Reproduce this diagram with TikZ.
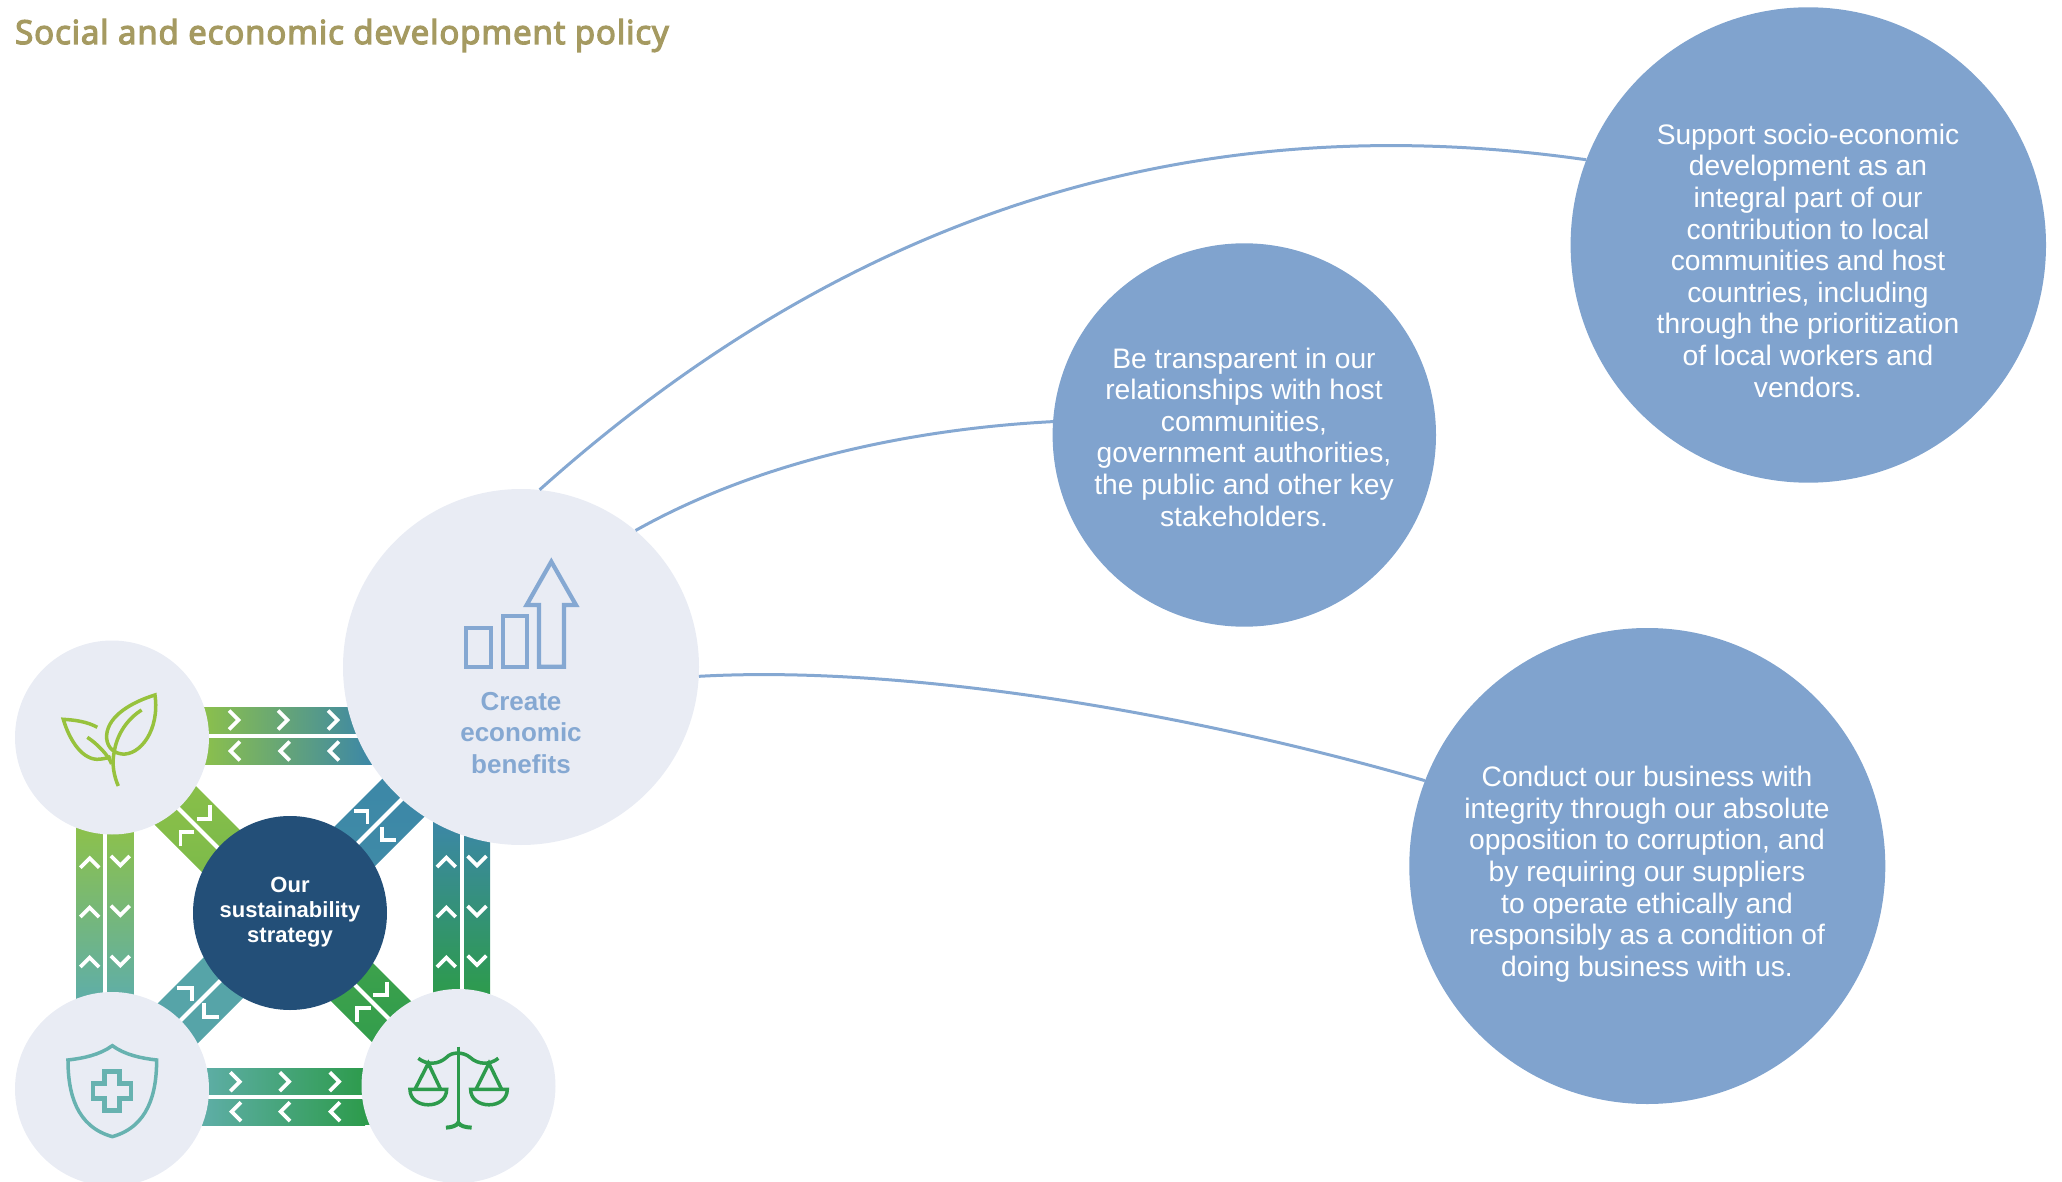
\documentclass[tikz,border=0pt]{standalone}
\usepackage{fontspec}
\setmainfont{Liberation Sans}
\newfontfamily\titlefont[FakeBold=4,LetterSpace=2.8]{Open Sans}
\definecolor{pale}{HTML}{E9ECF4}
\definecolor{skyblue}{HTML}{80A3CE}
\definecolor{iconblue}{HTML}{85A8D2}
\definecolor{navy}{HTML}{234F78}
\definecolor{olive}{HTML}{A59A61}
\definecolor{lime}{HTML}{8DC14A}
\definecolor{leafgreen}{HTML}{97C23D}
\definecolor{seablue}{HTML}{3C87A7}
\definecolor{sagegreen}{HTML}{5FAEA8}
\definecolor{shieldteal}{HTML}{67B2B0}
\definecolor{forest}{HTML}{2D9B4C}
\newcommand{\chevRight}[2]{\draw[chev] ({#1-12},{#2-9.4}) -- ({#1-2.6},#2) -- ({#1-12},{#2+9.4});}
\newcommand{\chevLeft}[2]{\draw[chev] ({#1+12},{#2-9.4}) -- ({#1+2.6},#2) -- ({#1+12},{#2+9.4});}
\newcommand{\chevUp}[2]{\draw[chev] ({#1-9.4},{#2+12}) -- (#1,{#2+2.6}) -- ({#1+9.4},{#2+12});}
\newcommand{\chevDown}[2]{\draw[chev] ({#1-9.4},{#2-12}) -- (#1,{#2-2.6}) -- ({#1+9.4},{#2-12});}
\tikzset{
  chev/.style={draw=white,line width=3.7pt,miter limit=10},
  disc/.style={circle,draw=none,fill=pale,inner sep=0pt,minimum size=194pt},
  bigdisc/.style={circle,draw=none,fill=skyblue,inner sep=0pt},
  body/.style={text=white,align=center,inner sep=0pt,font=\fontsize{28.2}{31.6}\selectfont},
  link/.style={draw=iconblue,line width=3pt},
  ico/.style={line width=3.5pt,line join=miter,fill=none},
}
\begin{document}
\begin{tikzpicture}[x=1pt,y=-1pt]
\useasboundingbox (0,0) rectangle (2062,1182);
% straight bands
\shade[left color=lime,right color=seablue] (200,707.3) rectangle (372,733.3);
\fill[seablue] (371,707.3) rectangle (400,733.3);
\shade[left color=lime,right color=seablue] (200,738) rectangle (372,764);
\fill[seablue] (371,738) rectangle (400,764);
\shade[top color=lime,bottom color=sagegreen] (76.7,825) rectangle (102.7,1000);
\fill[lime] (76.7,800) rectangle (102.7,826);
\shade[top color=lime,bottom color=sagegreen] (107.3,825) rectangle (133.3,1000);
\fill[lime] (107.3,800) rectangle (133.3,826);
\shade[top color=seablue,bottom color=forest] (433.3,820) rectangle (459.3,995);
\shade[top color=seablue,bottom color=forest] (464,820) rectangle (490,995);
\shade[left color=sagegreen,right color=forest] (200,1068) rectangle (365,1094);
\shade[left color=sagegreen,right color=forest] (200,1099) rectangle (365,1125);
\fill[sagegreen] (195,1068) rectangle (201,1094);
\fill[sagegreen] (195,1099) rectangle (201,1125);
\fill[forest] (364,1068) rectangle (390,1094);
\fill[forest] (364,1099) rectangle (390,1125);
% diagonal bands
\shade[top color=lime!92!leafgreen,bottom color=lime!70!forest] (151.6,778.4) -- (170,760) -- (305,895) -- (286.6,913.4) -- cycle;
\shade[top color=lime!92!leafgreen,bottom color=lime!70!forest] (148.4,781.6) -- (130,800) -- (265,935) -- (283.4,916.6) -- cycle;
\shade[top color=seablue,bottom color=seablue!85!sagegreen] (286.6,917.6) -- (305,936) -- (440,801) -- (421.6,782.6) -- cycle;
\shade[top color=seablue,bottom color=seablue!85!sagegreen] (283.4,914.4) -- (265,896) -- (400,761) -- (418.4,779.4) -- cycle;
\fill[sagegreen!75!seablue] (286.6,917.6) -- (305,936) -- (170,1071) -- (151.6,1052.6) -- cycle;
\fill[sagegreen!75!seablue] (283.4,914.4) -- (265,896) -- (130,1031) -- (148.4,1049.6) -- cycle;
\shade[top color=forest!70!lime,bottom color=forest] (286.6,913.4) -- (305,895) -- (440,1030) -- (421.6,1048.4) -- cycle;
\shade[top color=forest!70!lime,bottom color=forest] (283.4,916.6) -- (265,935) -- (400,1070) -- (418.4,1051.6) -- cycle;
% chevrons on straight bands
\foreach \cx in {241,290,340} \chevRight{\cx}{720};
\foreach \cx in {228,277.7,327} \chevLeft{\cx}{751};
\foreach \cx in {242.3,291.7,341.7} \chevRight{\cx}{1081.7};
\foreach \cx in {229,278,328} \chevLeft{\cx}{1111.7};
\foreach \cy in {855.7,905,955} \chevUp{89.7}{\cy};
\foreach \cy in {868,917.7,968} \chevDown{120.3}{\cy};
\foreach \cy in {855,905,955} \chevUp{446.3}{\cy};
\foreach \cy in {868,918,967.7} \chevDown{477}{\cy};
% chevrons on diagonal bands
\draw[chev] (210,805) -- (210,819) -- (196.7,819);
\draw[chev] (194.3,832) -- (180.5,832) -- (180.5,846);
\draw[chev] (354,811) -- (367.5,811) -- (367.5,824.3);
\draw[chev] (381.7,826.7) -- (381.7,840.3) -- (395.7,840.3);
\draw[chev] (177.3,987.8) -- (192,987.8) -- (192,1000.7);
\draw[chev] (204,1003.3) -- (204,1016.7) -- (219,1016.7);
\draw[chev] (386.7,981.7) -- (386.7,995) -- (372.7,995);
\draw[chev] (370.7,1007.8) -- (356.7,1007.8) -- (356.7,1022.3);
% discs
\node[disc] (env) at (112,737.5) {};
\node[disc] (health) at (112,1089) {};
\node[disc] (ethics) at (458.5,1086) {};
\node[circle,draw=none,fill=navy,inner sep=0pt,minimum size=194pt] (core) at (290,913) {};
\node[disc,minimum size=356pt] (econ) at (521,667) {};
\node[bigdisc,minimum size=475.4pt] (support) at (1808.3,245) {};
\node[bigdisc,minimum size=383.4pt] (transparent) at (1244.3,435) {};
\node[bigdisc,minimum size=476pt] (conduct) at (1647.3,866) {};
% connectors
\draw[link] (econ.84.5) .. controls (890,176) and (1250,112) .. (support.159.3);
\draw[link] (econ.50.4) .. controls (770,455) and (930,428) .. (transparent.176.7);
\draw[link] (econ.-3.4) .. controls (900,665) and (1180,710) .. (conduct.159.6);
% texts
\node[text=olive,anchor=base west,inner sep=0pt,font=\titlefont\fontsize{33}{36}\selectfont] (title) at (15,44) {Social and economic development policy};
\node[body] (supporttext) at (1808,260.6) {Support socio-economic\\development as an\\integral part of our\\contribution to local\\communities and host\\countries, including\\through the prioritization\\of local workers and\\vendors.};
\node[body] (transparenttext) at (1244,437) {Be transparent in our\\relationships with host\\communities,\\government authorities,\\the public and other key\\stakeholders.};
\node[body] (conducttext) at (1647,874.2) {Conduct our business with\\integrity through our absolute\\opposition to corruption, and\\by requiring our suppliers\\to operate ethically and\\responsibly as a condition of\\doing business with us.};
\node[text=iconblue,align=center,inner sep=0pt,font=\bfseries\fontsize{26}{31.6}\selectfont] (econtext) at (521,733) {Create\\economic\\benefits};
\node[text=white,align=center,inner sep=0pt,font=\bfseries\fontsize{22}{25}\selectfont] (coretext) at (290,912.3) {Our\\sustainability\\strategy};
% leaf icon
\begin{scope}[shift={(0,620)},x=.3333pt,y=-.3333pt]
\draw[ico,draw=leafgreen] (465,225) .. controls (400,245) and (325,285) .. (320,345) .. controls (318,375) and (335,398) .. (365,402) .. controls (420,408) and (480,330) .. (465,225) -- cycle;
\draw[ico,draw=leafgreen] (425,270) .. controls (385,295) and (350,340) .. (342,400) .. controls (335,430) and (342,470) .. (355,498);
\draw[ico,draw=leafgreen] (292,322) .. controls (262,305) and (225,300) .. (190,298) .. controls (205,350) and (240,415) .. (290,418) .. controls (305,418) and (320,415) .. (332,410);
\draw[ico,draw=leafgreen] (262,352) .. controls (290,370) and (325,405) .. (335,432);
\end{scope}
% shield icon
\begin{scope}[shift={(0,880)},x=.3333pt,y=-.3333pt]
\draw[ico,draw=shieldteal] (337,497) .. controls (375,525) and (425,535) .. (470,540) .. controls (470,640) and (445,740) .. (337,770) .. controls (229,740) and (204,640) .. (204,540) .. controls (249,535) and (299,525) .. (337,497) -- cycle;
\draw[ico,line width=4.4pt,draw=shieldteal] (314,574) -- (359,574) -- (359,611) -- (393,611) -- (393,656) -- (359,656) -- (359,691) -- (314,691) -- (314,656) -- (279,656) -- (279,611) -- (314,611) -- cycle;
\end{scope}
% scales icon
\begin{scope}[shift={(200,800)},x=.3333pt,y=-.3333pt]
\draw[ico,draw=forest] (775,740) -- (775,975);
\draw[ico,draw=forest,line width=4pt] (738,983) .. controls (755,982) and (770,978) .. (775,968) .. controls (780,978) and (795,982) .. (815,983);
\draw[ico,draw=forest] (655,775) .. controls (680,795) and (715,795) .. (740,772) .. controls (755,755) and (790,755) .. (810,772) .. controls (835,795) and (870,795) .. (895,775);
\draw[ico,draw=forest] (645,868) -- (685,790) -- (722,868);
\draw[ico,draw=forest] (630,868) -- (740,868) .. controls (740,930) and (630,930) .. (630,868) -- cycle;
\draw[ico,draw=forest] (828,868) -- (867,790) -- (905,868);
\draw[ico,draw=forest] (812,868) -- (922,868) .. controls (922,930) and (812,930) .. (812,868) -- cycle;
\end{scope}
% growth icon
\begin{scope}[shift={(330,480)},x=.3333pt,y=-.3333pt]
\draw[ico,line width=4.2pt,draw=iconblue] (664,245) -- (738,375) -- (702,375) -- (702,560) -- (627,560) -- (627,375) -- (590,375) -- cycle;
\draw[ico,line width=4.2pt,draw=iconblue] (408,444) rectangle (484,560);
\draw[ico,line width=4.2pt,draw=iconblue] (518,408) rectangle (592,560);
\end{scope}
\end{tikzpicture}
\end{document}
